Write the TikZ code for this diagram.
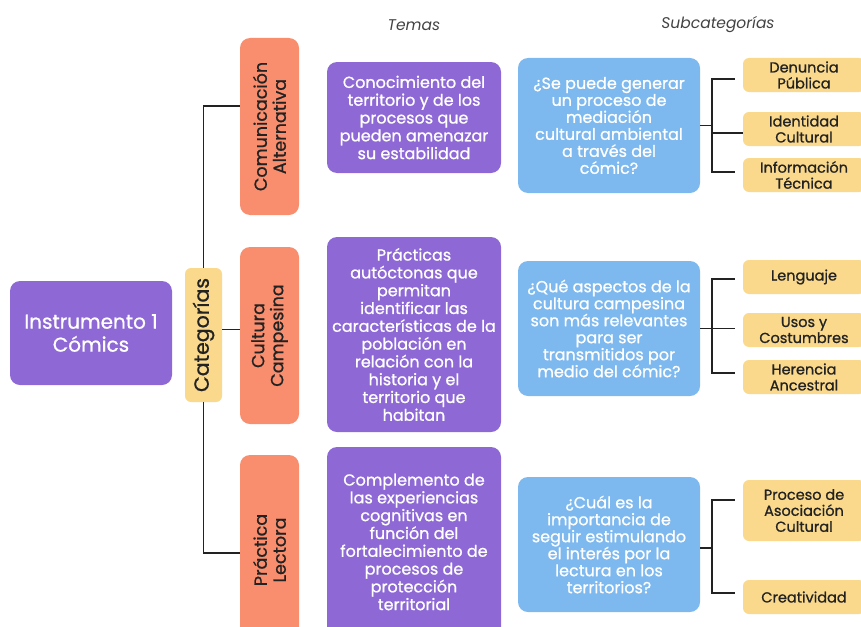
\documentclass[tikz,border=0pt]{standalone}
\usepackage{fontspec}
\setmainfont{Poppins}[UprightFeatures={FakeBold=0.9}]
\definecolor{purp}{HTML}{8E69D6}
\definecolor{orng}{HTML}{F98E6E}
\definecolor{blu}{HTML}{7DB8EE}
\definecolor{yel}{HTML}{FAD98C}
\definecolor{ink}{HTML}{222222}
\begin{document}
\begin{tikzpicture}[x=1pt,y=-1pt,
  box/.style={rounded corners=10pt, align=center, inner sep=0pt},
  purpbox/.style={box, fill=purp, text=white, font=\fontsize{16}{17.8}\selectfont},
  mainbox/.style={box, fill=purp, text=white, font=\fontsize{20}{23}\selectfont},
  orbox/.style={box, fill=orng, text=ink, rotate=90, minimum height=59pt, font=\fontsize{17.5}{19}\selectfont},
  catbox/.style={box, rounded corners=6pt, fill=yel, text=ink, rotate=90, font=\fontsize{20.5}{22}\selectfont},
  blubox/.style={box, fill=blu, text=white, minimum width=182pt, minimum height=135pt, font=\fontsize{16}{17}\selectfont},
  yelbox/.style={box, rounded corners=6pt, fill=yel, text=ink, minimum width=122pt, font=\fontsize{14.5}{16}\selectfont},
  conn/.style={draw=ink, line width=1.6pt},
  title/.style={font=\fontsize{15.5}{17}\selectfont\itshape, text=ink!85}
]
\useasboundingbox (0,0) rectangle (861,626);

\node[title] (t1) at (414,25) {Temas};
\node[title] (t2) at (718,25) {Subcategorías};

\node[mainbox, minimum width=162pt, minimum height=104pt] (ins) at (91,333) {Instrumento 1\\Cómics};
\node[catbox, minimum width=134pt, minimum height=37pt] (cat) at (203.5,335) {Categorías};

\node[orbox, minimum width=177pt] (or1) at (269.5,126.5) {Comunicación\\Alternativa};
\node[orbox, minimum width=177pt] (or2) at (269.5,335.5) {Cultura\\Campesina};
\node[orbox, minimum width=190pt] (or3) at (269.5,550) {Práctica\\Lectora};

\node[purpbox, minimum width=174pt, minimum height=111pt] (p1) at (414,117.5)
  {Conocimiento del\\territorio y de los\\procesos que\\pueden amenazar\\su estabilidad};
\node[purpbox, minimum width=174pt, minimum height=195pt] (p2) at (414,334.5)
  {Prácticas\\autóctonas que\\permitan\\identificar las\\características de la\\población en\\relación con la\\historia y el\\territorio que\\habitan};
\node[purpbox, minimum width=174pt, minimum height=190pt] (p3) at (414,542)
  {Complemento de\\las experiencias\\cognitivas en\\función del\\fortalecimiento de\\procesos de\\protección\\territorial};

\node[blubox] (b1) at (609,125.5)
  {¿Se puede generar\\un proceso de\\mediación\\cultural ambiental\\a través del\\cómic?};
\node[blubox] (b2) at (609,328.5)
  {¿Qué aspectos de la\\cultura campesina\\son más relevantes\\para ser\\transmitidos por\\medio del cómic?};
\node[blubox] (b3) at (609,544.5)
  {¿Cuál es la\\importancia de\\seguir estimulando\\el interés por la\\lectura en los\\territorios?};

\node[yelbox, minimum height=34pt] (y1) at (804,75) {Denuncia\\Pública};
\node[yelbox, minimum height=34pt] (y2) at (804,129) {Identidad\\Cultural};
\node[yelbox, minimum height=34pt] (y3) at (804,175) {Información\\Técnica};
\node[yelbox, minimum height=34pt] (y4) at (804,277) {Lenguaje};
\node[yelbox, minimum height=34pt] (y5) at (804,330) {Usos y\\Costumbres};
\node[yelbox, minimum height=34pt] (y6) at (804,377) {Herencia\\Ancestral};
\node[yelbox, minimum height=61pt] (y7) at (804,510.5) {Proceso de\\Asociación\\Cultural};
\node[yelbox, minimum height=34pt] (y8) at (804,597) {Creatividad};

% category tree
\draw[conn] (cat.east) |- ([yshift=20.5pt]or1.north);
\draw[conn] ([yshift=6pt]or2.north) -- ([yshift=6pt]or2.north -| cat.south);
\draw[conn] (cat.west) |- ([yshift=-3pt]or3.north);

% brackets
\draw[conn] ([xshift=-8pt,yshift=-4pt]y1.west) -- ++(-23,0) |- ([xshift=-8pt,yshift=3pt]y3.west);
\draw[conn] (b1.east) -- ++(12,0);
\draw[conn] ([xshift=-8pt,yshift=-2pt]y4.west) -- ++(-23,0) |- ([xshift=-8pt,yshift=4pt]y6.west);
\draw[conn] (b2.east) -- ++(35,0);
\draw[conn] ([xshift=-8pt,yshift=10.5pt]y7.west) -- ++(-23,0) |- ([xshift=-8pt,yshift=4pt]y8.west);
\draw[conn] ([yshift=-3.5pt]b3.east) -- ++(12,0);
\draw[conn] ([yshift=-4pt]y2.west) -- ++(-31,0);
\end{tikzpicture}
\end{document}
